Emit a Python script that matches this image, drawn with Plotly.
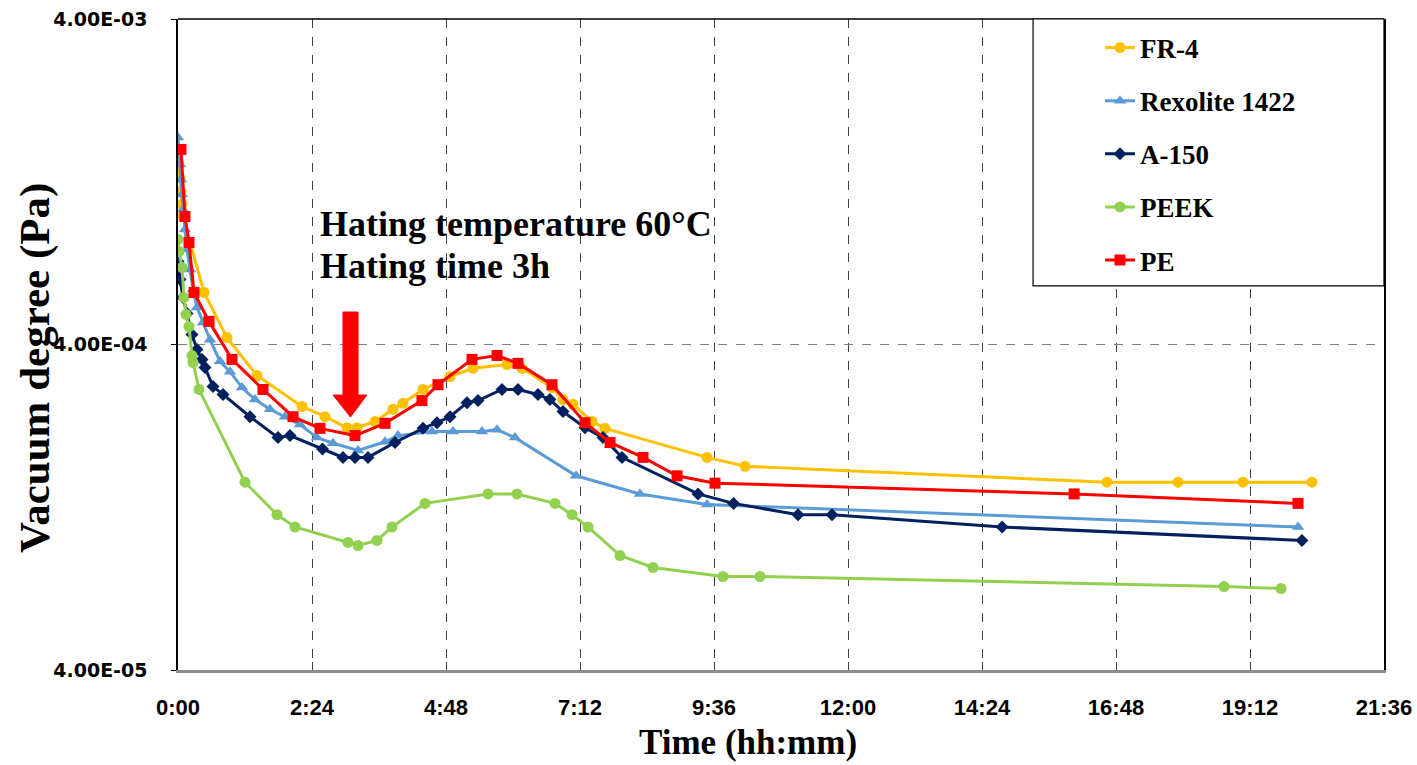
import plotly.graph_objects as go

# ---------------- data (time in hours, pressure in Pa) ----------------
fr4_t = [0, 0.018, 0.036, 0.054, 0.072, 0.09, 0.466, 0.878, 1.415, 2.221, 2.633, 3.027, 3.206, 3.529,
         3.851, 4.03, 4.388, 4.872, 5.284, 5.893, 6.161, 6.699, 6.896, 7.075, 7.415, 7.648, 9.475,
         10.156, 16.64, 17.91, 19.075, 20.31]
fr4_p = [1.57e-3, 1.43e-3, 1.30e-3, 1.18e-3, 1.08e-3, 9.9e-4, 5.78e-4, 4.20e-4, 3.21e-4, 2.58e-4,
         2.40e-4, 2.22e-4, 2.22e-4, 2.32e-4, 2.53e-4, 2.64e-4, 2.91e-4, 3.19e-4, 3.38e-4, 3.47e-4,
         3.38e-4, 2.95e-4, 2.71e-4, 2.62e-4, 2.32e-4, 2.21e-4, 1.80e-4, 1.69e-4, 1.51e-4, 1.51e-4,
         1.51e-4, 1.51e-4]

rex_t = [0, 0.018, 0.036, 0.054, 0.072, 0.09, 0.125, 0.161, 0.215, 0.269, 0.34, 0.448, 0.573, 0.752,
         0.931, 1.146, 1.379, 1.648, 1.916, 2.185, 2.49, 2.776, 3.224, 3.708, 3.94, 4.549, 4.926,
         5.445, 5.714, 6.036, 7.13, 8.274, 9.475, 20.06]
rex_p = [1.73e-3, 1.59e-3, 1.43e-3, 1.285e-3, 1.156e-3, 1.04e-3, 9.02e-4, 7.83e-4, 6.80e-4, 5.90e-4,
         5.20e-4, 4.67e-4, 4.14e-4, 3.55e-4, 3.30e-4, 2.95e-4, 2.71e-4, 2.53e-4, 2.40e-4, 2.27e-4,
         2.07e-4, 1.99e-4, 1.89e-4, 2.01e-4, 2.10e-4, 2.16e-4, 2.16e-4, 2.16e-4, 2.19e-4, 2.07e-4,
         1.58e-4, 1.39e-4, 1.29e-4, 1.10e-4]

a150_t = [0, 0.036, 0.09, 0.161, 0.251, 0.34, 0.43, 0.484, 0.627, 0.806, 1.29, 1.791, 2.006, 2.588,
          2.955, 3.17, 3.403, 3.887, 4.388, 4.639, 4.872, 5.176, 5.373, 5.803, 6.09, 6.448, 6.662,
          6.896, 7.29, 7.612, 7.952, 9.314, 9.95, 11.105, 11.714, 14.76, 20.13]
a150_p = [7.2e-4, 6.34e-4, 5.58e-4, 4.98e-4, 4.29e-4, 3.86e-4, 3.60e-4, 3.40e-4, 2.97e-4, 2.81e-4,
          2.40e-4, 2.07e-4, 2.10e-4, 1.91e-4, 1.80e-4, 1.80e-4, 1.80e-4, 2.00e-4, 2.21e-4, 2.30e-4,
          2.40e-4, 2.65e-4, 2.69e-4, 2.91e-4, 2.91e-4, 2.81e-4, 2.71e-4, 2.49e-4, 2.22e-4, 2.07e-4,
          1.80e-4, 1.39e-4, 1.30e-4, 1.20e-4, 1.20e-4, 1.10e-4, 1.00e-4]

peek_t = [0, 0.018, 0.072, 0.107, 0.143, 0.197, 0.251, 0.269, 0.376, 1.2, 1.773, 2.096, 3.045, 3.224,
          3.564, 3.833, 4.424, 5.552, 6.072, 6.753, 7.057, 7.344, 7.917, 8.508, 9.761, 10.424,
          18.735, 19.756]
peek_p = [8.41e-4, 7.72e-4, 6.9e-4, 5.58e-4, 4.95e-4, 4.54e-4, 3.70e-4, 3.52e-4, 2.91e-4, 1.51e-4,
          1.20e-4, 1.10e-4, 9.86e-5, 9.65e-5, 1.00e-4, 1.10e-4, 1.30e-4, 1.39e-4, 1.39e-4, 1.30e-4,
          1.20e-4, 1.10e-4, 8.99e-5, 8.26e-5, 7.75e-5, 7.75e-5, 7.22e-5, 7.12e-5]

pe_t = [0.054, 0.125, 0.197, 0.287, 0.555, 0.967, 1.522, 2.06, 2.543, 3.17, 3.708, 4.37, 4.657, 5.266,
        5.714, 6.09, 6.699, 7.29, 7.738, 8.329, 8.938, 9.618, 16.05, 20.06]
pe_p = [1.59e-3, 9.89e-4, 8.23e-4, 5.78e-4, 4.71e-4, 3.60e-4, 2.91e-4, 2.40e-4, 2.21e-4, 2.10e-4,
        2.29e-4, 2.69e-4, 3.01e-4, 3.60e-4, 3.70e-4, 3.50e-4, 3.01e-4, 2.30e-4, 2.00e-4, 1.80e-4,
        1.58e-4, 1.50e-4, 1.39e-4, 1.30e-4]

x_tickvals = [0, 2.4, 4.8, 7.2, 9.6, 12.0, 14.4, 16.8, 19.2, 21.6]
x_ticktext = ["0:00", "2:24", "4:48", "7:12", "9:36", "12:00", "14:24", "16:48", "19:12", "21:36"]
y_tickvals = [4e-5, 4e-4, 4e-3]
y_ticktext = ["4.00E-05", "4.00E-04", "4.00E-03"]

series = [
    ("FR-4", fr4_t, fr4_p, "#FFC000", "circle", 11),
    ("Rexolite 1422", rex_t, rex_p, "#5B9BD5", "triangle-up", 11),
    ("A-150", a150_t, a150_p, "#002060", "diamond", 10),
    ("PEEK", peek_t, peek_p, "#92D050", "circle", 11),
    ("PE", pe_t, pe_p, "#FF0000", "square", 11),
]

fig = go.Figure()
for name, t, p, col, sym, sz in series:
    fig.add_trace(go.Scatter(
        x=t, y=p, name=name, mode="lines+markers", legendgroup=name,
        line=dict(color=col, width=3),
        marker=dict(color=col, symbol=sym, size=sz),
    ))

serif = "Liberation Serif"

fig.update_layout(
    width=1417, height=765,
    margin=dict(l=178, r=33, t=19, b=95),
    paper_bgcolor="white", plot_bgcolor="white",
    showlegend=True,
    legend=dict(
        x=0.7645, y=0.993, xanchor="left", yanchor="top",
        bgcolor="rgba(0,0,0,0)", borderwidth=0,
        traceorder="grouped", tracegroupgap=15,
        font=dict(family=serif, size=27, color="black", weight="bold"),
    ),
    xaxis=dict(
        range=[0, 21.6], tickmode="array", tickvals=x_tickvals, ticktext=x_ticktext,
        showgrid=True, gridcolor="#404040", griddash="dash", gridwidth=1,
        showline=True, linecolor="#8c8c8c", linewidth=2.5, mirror=False,
        ticks="inside", ticklen=8, tickcolor="#404040", tickwidth=1,
        ticklabelstandoff=16, automargin=False,
        tickfont=dict(family="Liberation Sans", size=22, color="black", weight="bold"),
        zeroline=False,
    ),
    yaxis=dict(
        type="log", range=[-4.39794, -2.39794],
        tickmode="array", tickvals=y_tickvals, ticktext=y_ticktext,
        showgrid=True, gridcolor="#7f7f7f", griddash="dash", gridwidth=1,
        showline=True, linecolor="black", linewidth=1.5, mirror=True,
        ticks="outside", ticklen=5, tickcolor="black",
        ticklabelstandoff=20, automargin=False,
        tickfont=dict(family="DejaVu Sans", size=19, color="black", weight="bold"),
        zeroline=False,
    ),
)

# top border of plot area
fig.add_shape(type="line", xref="paper", yref="paper", x0=0, x1=1, y0=1, y1=1,
              line=dict(color="black", width=1.5), layer="above")

# legend box
fig.add_shape(type="rect", xref="paper", yref="paper", x0=0.709, x1=1.0, y0=0.590, y1=1.0,
              fillcolor="white", line=dict(color="black", width=1.2), layer="above")

# red arrow
fig.add_shape(type="path", xref="paper", yref="paper",
              path="M 0.1368 0.5499 L 0.1493 0.5499 L 0.1493 0.4224 L 0.1567 0.4224 "
                   "L 0.1430 0.3886 L 0.1285 0.4224 L 0.1368 0.4224 Z",
              fillcolor="#FF0000", line=dict(color="#FF0000", width=1), layer="above")

# annotations
fig.add_annotation(xref="paper", yref="paper", x=0.1161, y=0.685, xanchor="left", yanchor="middle",
                   text="Hating temperature 60°C", showarrow=False,
                   font=dict(family=serif, size=36, color="black", weight="bold"))
fig.add_annotation(xref="paper", yref="paper", x=0.1161, y=0.620, xanchor="left", yanchor="middle",
                   text="Hating time 3h", showarrow=False,
                   font=dict(family=serif, size=36, color="black", weight="bold"))

# axis titles
fig.add_annotation(xref="paper", yref="paper", x=-0.1186, y=0.464, xanchor="center", yanchor="middle",
                   text="Vacuum degree (Pa)", textangle=-90, showarrow=False,
                   font=dict(family=serif, size=43, color="black", weight="bold"))
fig.add_annotation(xref="paper", yref="paper", x=0.4726, y=-0.1106, xanchor="center", yanchor="middle",
                   text="Time (hh:mm)", showarrow=False,
                   font=dict(family=serif, size=35, color="black", weight="bold"))

fig.write_html("out.html", config={"displayModeBar": False},
               post_script="document.body.style.margin='0';document.body.style.overflow='hidden';")
